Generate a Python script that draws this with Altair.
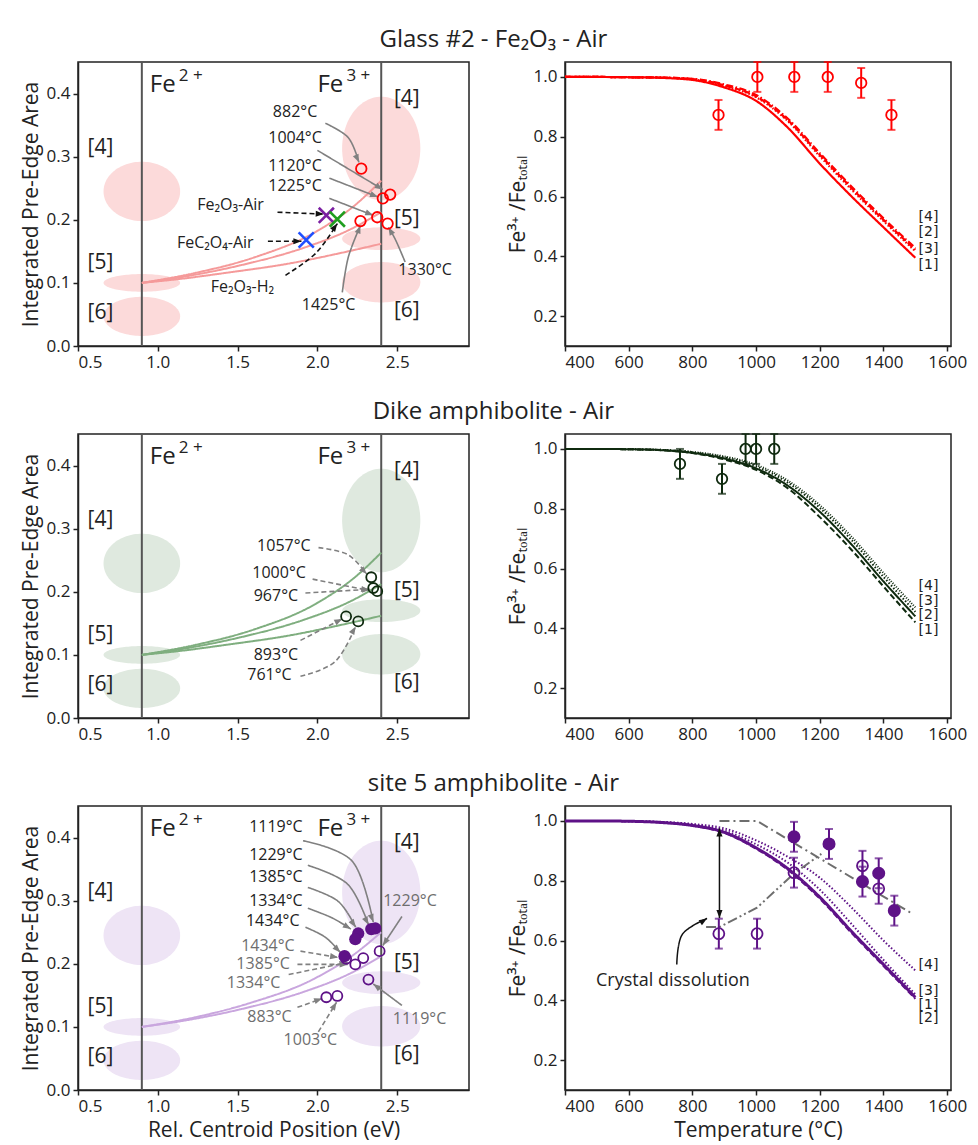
import math
import altair as alt
import pandas as pd

FONT = "Open Sans"
X_DOM = [0.5, 2.95]
A_DOM = [0.0, 0.45]
T_DOM = [400, 1612]
F_DOM = [0.1, 1.05]
PW, PH = 391, 284
RW = 386
SX_L = PW / (X_DOM[1] - X_DOM[0]); SY_L = PH / (A_DOM[1] - A_DOM[0])
SX_R = RW / (T_DOM[1] - T_DOM[0]); SY_R = PH / (F_DOM[1] - F_DOM[0])
HEAD = "M0,0L-0.38,1L0.38,1Z"
XMARK = "M-1,-1L1,1M-1,1L1,-1"

TITLES = ["Glass #2 - Fe₂O₃ - Air", "Dike amphibolite - Air", "site 5 amphibolite - Air"]

# ---------------- coordination-region ellipses (same in every left panel)
ELL_CX = [0.9, 0.9, 0.9, 2.4, 2.4, 2.4]
ELL_CY = [0.245, 0.100, 0.047, 0.313, 0.170, 0.101]
ELL_RX = [0.24, 0.24, 0.24, 0.245, 0.245, 0.245]
ELL_RY = [0.047, 0.014, 0.031, 0.082, 0.018, 0.032]
REGION_TXT = ["[4]", "[5]", "[6]", "[4]", "[5]", "[6]"]
REGION_X = [0.56, 0.56, 0.56, 2.48, 2.48, 2.48]
REGION_Y = [0.313, 0.131, 0.052, 0.392, 0.202, 0.055]
VLINES = [0.9, 2.4]
FE_TXT = ["Fe", "Fe"]
FE_SUP = ["2 +", "3 +"]
FE_X = [0.95, 2.0]
FE_Y = [0.413, 0.413]

# ---------------- mixing curves
MIX_HI_X = [0.9, 1.24, 1.6, 1.99, 2.23, 2.4]
MIX_HI_Y = [0.1, 0.116, 0.140, 0.181, 0.222, 0.262]
MIX_MID_X = [0.9, 1.19, 1.52, 1.92, 2.2, 2.4]
MIX_MID_Y = [0.1, 0.111, 0.128, 0.156, 0.184, 0.212]
MIX_LO_X = [0.9, 1.13, 1.43, 1.83, 2.14, 2.4]
MIX_LO_Y = [0.1, 0.106, 0.116, 0.131, 0.147, 0.162]
MIX_S5_X = [0.9, 1.23, 1.58, 1.97, 2.22, 2.4]
MIX_S5_Y = [0.1, 0.115, 0.138, 0.175, 0.213, 0.25]

# ---------------- row 1 (glass) left
G_PT_X = [2.275, 2.41, 2.456, 2.375, 2.27, 2.44]
G_PT_Y = [0.281, 0.234, 0.240, 0.204, 0.198, 0.194]
G_X_X = [2.056, 2.125, 1.93]
G_X_Y = [0.207, 0.201, 0.168]
G_X_COL = ["#7b1fa2", "#1f9e1f", "#1f4fff"]
G_LBL = ["882°C", "1004°C", "1120°C", "1225°C", "1425°C", "1330°C",
         "Fe₂O₃-Air", "FeC₂O₄-Air", "Fe₂O₃-H₂"]
G_LBL_X = [1.86, 1.86, 1.86, 1.86, 2.07, 2.675, 1.456, 1.36, 1.53]
G_LBL_Y = [0.371, 0.329, 0.285, 0.254, 0.065, 0.12, 0.223, 0.163, 0.093]
G_ARR_SOLID_X = [[2.05, 2.194, 2.26], [2.0, 2.41], [2.075, 2.38], [2.075, 2.35],
                 [2.156, 2.194, 2.27], [2.55, 2.49, 2.445]]
G_ARR_SOLID_Y = [[0.353, 0.330, 0.291], [0.31, 0.248], [0.266, 0.236], [0.234, 0.207],
                 [0.085, 0.141, 0.191], [0.133, 0.168, 0.188]]
G_ARR_DASH_X = [[1.75, 2.04], [1.69, 1.9], [1.8, 1.99, 2.125]]
G_ARR_DASH_Y = [[0.212, 0.209], [0.166, 0.166], [0.112, 0.147, 0.194]]

# ---------------- row 2 (dike) left
D_PT_X = [2.3375, 2.35, 2.375, 2.18, 2.256]
D_PT_Y = [0.223, 0.206, 0.201, 0.161, 0.153]
D_LBL = ["1057°C", "1000°C", "967°C", "893°C", "761°C"]
D_LBL_X = [1.79, 1.76, 1.74, 1.74, 1.70]
D_LBL_Y = [0.272, 0.229, 0.194, 0.100, 0.068]
D_ARR_X = [[2.007, 2.19, 2.31], [1.97, 2.325], [1.925, 2.33], [1.894, 2.156], [1.894, 2.11, 2.24]]
D_ARR_Y = [[0.270, 0.259, 0.228], [0.220, 0.202], [0.198, 0.204], [0.123, 0.157], [0.066, 0.089, 0.145]]

# ---------------- row 3 (site 5) left
S_FILL_X = [2.256, 2.2375, 2.3375, 2.3625, 2.17]
S_FILL_Y = [0.248, 0.239, 0.255, 0.256, 0.212]
S_OPEN_X = [2.18, 2.2375, 2.2875, 2.39, 2.32, 2.056, 2.125]
S_OPEN_Y = [0.208, 0.199, 0.209, 0.220, 0.175, 0.147, 0.149]
S_LBL_K = ["1119°C", "1229°C", "1385°C", "1334°C", "1434°C"]
S_LBL_K_X = [1.74, 1.74, 1.74, 1.74, 1.72]
S_LBL_K_Y = [0.416, 0.373, 0.337, 0.300, 0.267]
S_LBL_G = ["1434°C", "1385°C", "1334°C", "883°C", "1003°C", "1229°C", "1119°C"]
S_LBL_G_X = [1.69, 1.66, 1.60, 1.70, 1.956, 2.58, 2.64]
S_LBL_G_Y = [0.228, 0.199, 0.170, 0.115, 0.079, 0.299, 0.112]
S_ARR_SOLID_X = [[1.91, 2.22, 2.35], [1.94, 2.19, 2.32], [1.94, 2.13, 2.24], [1.94, 2.09, 2.21],
                 [1.925, 2.05, 2.144], [2.53, 2.41], [2.53, 2.35]]
S_ARR_SOLID_Y = [[0.395, 0.362, 0.266], [0.356, 0.326, 0.262], [0.321, 0.299, 0.258], [0.288, 0.273, 0.255],
                 [0.258, 0.242, 0.218], [0.275, 0.229], [0.134, 0.168]]
S_ARR_DASH_X = [[1.894, 2.13], [1.875, 2.19], [1.82, 2.19], [1.875, 2.03], [2.006, 2.12]]
S_ARR_DASH_Y = [[0.22, 0.21], [0.199, 0.199], [0.183, 0.202], [0.131, 0.145], [0.092, 0.139]]

# ---------------- right panels: model curves
T_GRID = [400, 500, 600, 700, 800, 900, 1000, 1100, 1200, 1300, 1400, 1500]
G_F1 = [1.0, 1.0, 0.999, 0.997, 0.990, 0.965, 0.920, 0.830, 0.710, 0.600, 0.497, 0.395]
G_F2 = [1.0, 1.0, 0.999, 0.998, 0.993, 0.972, 0.935, 0.855, 0.740, 0.628, 0.522, 0.422]
G_F3 = [1.0, 1.0, 0.999, 0.998, 0.992, 0.970, 0.932, 0.852, 0.735, 0.623, 0.518, 0.417]
G_F4 = [1.0, 1.0, 0.999, 0.998, 0.994, 0.975, 0.940, 0.860, 0.745, 0.633, 0.527, 0.428]
D_F1 = [1.0, 1.0, 0.999, 0.996, 0.986, 0.965, 0.930, 0.868, 0.772, 0.662, 0.540, 0.420]
D_F2 = [1.0, 1.0, 0.999, 0.996, 0.987, 0.968, 0.935, 0.877, 0.790, 0.680, 0.557, 0.440]
D_F3 = [1.0, 1.0, 0.999, 0.997, 0.989, 0.972, 0.942, 0.887, 0.803, 0.695, 0.572, 0.455]
D_F4 = [1.0, 1.0, 0.999, 0.997, 0.990, 0.975, 0.947, 0.894, 0.812, 0.706, 0.585, 0.470]
S_F1 = [1.0, 1.0, 0.999, 0.995, 0.985, 0.962, 0.910, 0.840, 0.745, 0.630, 0.520, 0.410]
S_F2 = [1.0, 1.0, 0.999, 0.995, 0.984, 0.960, 0.907, 0.836, 0.740, 0.625, 0.515, 0.405]
S_F3 = [1.0, 1.0, 0.999, 0.996, 0.988, 0.968, 0.922, 0.860, 0.770, 0.655, 0.535, 0.420]
S_F4 = [1.0, 1.0, 0.999, 0.997, 0.990, 0.975, 0.935, 0.880, 0.810, 0.710, 0.600, 0.500]

# measured Fe3+/Fetot
G_T = [882, 1004, 1120, 1225, 1330, 1425]
G_V = [0.873, 1.0, 1.0, 1.0, 0.98, 0.873]
D_T = [761, 893, 967, 1000, 1057]
D_V = [0.95, 0.90, 1.0, 1.0, 1.0]
S_FT = [1119, 1229, 1334, 1385, 1434]
S_FV = [0.947, 0.923, 0.797, 0.825, 0.700]
S_OT = [883, 1003, 1119, 1334, 1385]
S_OV = [0.623, 0.623, 0.827, 0.850, 0.773]
ERR = 0.05

R_LBL_G = ["[4]", "[2]", "[3]", "[1]"]; R_LBL_G_Y = [0.530, 0.480, 0.423, 0.370]
R_LBL_D = ["[4]", "[3]", "[2]", "[1]"]; R_LBL_D_Y = [0.543, 0.493, 0.443, 0.393]
R_LBL_S = ["[4]", "[3]", "[1]", "[2]"]; R_LBL_S_Y = [0.517, 0.430, 0.383, 0.340]
R_LBL_T = 1510

# site-5 extras
S_UP_T = [885, 1003, 1485]; S_UP_V = [1.0, 1.0, 0.693]
S_LO_T = [843, 885, 1003, 1118, 1205]; S_LO_V = [0.645, 0.645, 0.710, 0.823, 0.890]
S_VARR_T = [885]; S_VARR_V0 = [0.675]; S_VARR_V1 = [0.975]
S_CD_T = [751, 768, 846]; S_CD_V = [0.52, 0.62, 0.674]
S_CD_TXT = "Crystal dissolution"; S_CD_TXT_T = 739; S_CD_TXT_V = 0.463

DASH = {"solid": [1, 0], "dashed": [6, 3], "dotted": [1.5, 2], "dashdot": [7, 2.5, 1.5, 2.5],
        "fine": [1, 1.5]}


def angle(x0, y0, x1, y1, sx, sy):
    dx = (x1 - x0) * sx
    dy = -(y1 - y0) * sy
    return math.degrees(math.atan2(dx, -dy)) % 360


# ---------------- encodings
def lx(title):
    return alt.X("x:Q", scale=alt.Scale(domain=X_DOM, nice=False, zero=False),
                 axis=alt.Axis(values=[0.5, 1.0, 1.5, 2.0, 2.5], format=".1f", title=title))


def ly():
    return alt.Y("y:Q", scale=alt.Scale(domain=A_DOM, nice=False, zero=False),
                 axis=alt.Axis(values=[0.0, 0.1, 0.2, 0.3, 0.4], format=".1f",
                               title="Integrated Pre-Edge Area"))


def rx(title):
    return alt.X("x:Q", scale=alt.Scale(domain=T_DOM, nice=False, zero=False),
                 axis=alt.Axis(values=[400, 600, 800, 1000, 1200, 1400, 1600], format="d", title=title))


def ry():
    return alt.Y("y:Q", scale=alt.Scale(domain=F_DOM, nice=False, zero=False),
                 axis=alt.Axis(values=[0.2, 0.4, 0.6, 0.8, 1.0], format=".1f", title="Fe³⁺ /Feₜₒₜₐₗ"))


def lines(xs_list, ys_list, X, Y, color, width, dash, interp):
    rows = []
    for i, (xs, ys) in enumerate(zip(xs_list, ys_list)):
        for k, (a, b) in enumerate(zip(xs, ys)):
            rows.append({"id": i, "o": k, "x": a, "y": b})
    return alt.Chart(pd.DataFrame(rows)).mark_line(
        color=color, strokeWidth=width, strokeDash=dash, interpolate=interp).encode(
        x=X, y=Y, detail="id:N", order="o:Q")


def heads(xs_list, ys_list, X, Y, color, sx, sy, size=260):
    rows = []
    for xs, ys in zip(xs_list, ys_list):
        rows.append({"x": xs[-1], "y": ys[-1], "a": angle(xs[-2], ys[-2], xs[-1], ys[-1], sx, sy)})
    return alt.Chart(pd.DataFrame(rows)).mark_point(
        shape=HEAD, filled=True, size=size, color=color, opacity=1, strokeWidth=0).encode(
        x=X, y=Y, angle=alt.Angle("a:Q", scale=None))


def texts(lbls, xs, ys, X, Y, color, size, align="center", font=FONT, dx=0, dy=0):
    df = pd.DataFrame({"t": lbls, "x": xs, "y": ys})
    return alt.Chart(df).mark_text(color=color, fontSize=size, align=align, baseline="middle",
                                   font=font, dx=dx, dy=dy).encode(x=X, y=Y, text="t:N")


def left_panel(xtitle, ell_col, curve_col, curves, extra):
    X, Y = lx(xtitle), ly()
    rows = []
    for i, (cx, cy, rxx, ryy) in enumerate(zip(ELL_CX, ELL_CY, ELL_RX, ELL_RY)):
        for k in range(61):
            t = math.pi * k / 60
            h = ryy * math.sin(t)
            rows.append({"e": i, "x": cx - rxx * math.cos(t), "y": cy - h, "y2": cy + h})
    ell = alt.Chart(pd.DataFrame(rows)).mark_area(color=ell_col, opacity=1).encode(
        x=X, y=Y, y2="y2:Q", detail="e:N")
    vl = alt.Chart(pd.DataFrame({"x": VLINES})).mark_rule(color="#555555", strokeWidth=2).encode(x=X)
    cur = lines([c[0] for c in curves], [c[1] for c in curves], X, Y, curve_col, 2, DASH["solid"], "monotone")
    reg = texts(REGION_TXT, REGION_X, REGION_Y, X, Y, "#222222", 21, "left")
    fe = texts(FE_TXT, FE_X, FE_Y, X, Y, "#222222", 24, "left")
    fe_sup = texts(FE_SUP, FE_X, FE_Y, X, Y, "#222222", 17, "left", dx=29, dy=-9)
    return alt.layer(ell, vl, cur, reg, fe, fe_sup, *extra(X, Y)).properties(width=PW, height=PH)


def right_panel(xtitle, color, curves, lbls, lbl_y, extra):
    X, Y = rx(xtitle), ry()
    layers = []
    for vals, dash, w in curves:
        layers.append(lines([T_GRID], [vals], X, Y, color, w, DASH[dash], "monotone"))
    layers.append(texts(lbls, [R_LBL_T] * len(lbls), lbl_y, X, Y, "#222222", 14, "left", "DejaVu Sans"))
    layers += extra(X, Y)
    return alt.layer(*layers).properties(width=RW, height=PH)


def errbars(ts, vs, X, Y, color, filled, size):
    df = pd.DataFrame({"x": ts, "y": vs, "lo": [v - ERR for v in vs], "hi": [v + ERR for v in vs]})
    base = alt.Chart(df)
    rule = base.mark_rule(color=color, strokeWidth=2).encode(x=X, y=alt.Y("lo:Q"), y2="hi:Q")
    cap1 = base.mark_tick(color=color, orient="horizontal", size=8, thickness=2).encode(x=X, y=alt.Y("lo:Q"))
    cap2 = base.mark_tick(color=color, orient="horizontal", size=8, thickness=2).encode(x=X, y=alt.Y("hi:Q"))
    pts = base.mark_point(color=color, filled=filled, opacity=1, size=size, strokeWidth=1.8,
                          shape="circle").encode(x=X, y=Y)
    return [rule, cap1, cap2, pts]


def pts(xs, ys, X, Y, color, filled, size, sw=1.8):
    return alt.Chart(pd.DataFrame({"x": xs, "y": ys})).mark_point(
        color=color, filled=filled, opacity=1, size=size, strokeWidth=sw, shape="circle").encode(x=X, y=Y)


# ---------------- row extras
def g_left(X, Y):
    out = [lines(G_ARR_SOLID_X, G_ARR_SOLID_Y, X, Y, "#808080", 1.6, DASH["solid"], "cardinal"),
           heads(G_ARR_SOLID_X, G_ARR_SOLID_Y, X, Y, "#808080", SX_L, SY_L),
           lines(G_ARR_DASH_X, G_ARR_DASH_Y, X, Y, "#111111", 1.6, [5, 3], "cardinal"),
           heads(G_ARR_DASH_X, G_ARR_DASH_Y, X, Y, "#111111", SX_L, SY_L),
           pts(G_PT_X, G_PT_Y, X, Y, "#ff0000", False, 110)]
    xdf = pd.DataFrame({"x": G_X_X, "y": G_X_Y, "c": G_X_COL})
    out.append(alt.Chart(xdf).mark_point(shape=XMARK, filled=False, size=230, strokeWidth=2.6, opacity=1).encode(
        x=X, y=Y, color=alt.Color("c:N", scale=None)))
    out.append(texts(G_LBL, G_LBL_X, G_LBL_Y, X, Y, "#222222", 16))
    return out


def d_left(X, Y):
    return [lines(D_ARR_X, D_ARR_Y, X, Y, "#808080", 1.6, [5, 3], "cardinal"),
            heads(D_ARR_X, D_ARR_Y, X, Y, "#808080", SX_L, SY_L),
            pts(D_PT_X, D_PT_Y, X, Y, "#0f2a0f", False, 100),
            texts(D_LBL, D_LBL_X, D_LBL_Y, X, Y, "#222222", 16)]


def s_left(X, Y):
    return [lines(S_ARR_SOLID_X, S_ARR_SOLID_Y, X, Y, "#808080", 1.6, DASH["solid"], "cardinal"),
            heads(S_ARR_SOLID_X, S_ARR_SOLID_Y, X, Y, "#808080", SX_L, SY_L),
            lines(S_ARR_DASH_X, S_ARR_DASH_Y, X, Y, "#808080", 1.6, [5, 3], "cardinal"),
            heads(S_ARR_DASH_X, S_ARR_DASH_Y, X, Y, "#808080", SX_L, SY_L),
            pts(S_OPEN_X, S_OPEN_Y, X, Y, "#5e1287", False, 100),
            pts(S_FILL_X, S_FILL_Y, X, Y, "#5e1287", True, 150),
            texts(S_LBL_K, S_LBL_K_X, S_LBL_K_Y, X, Y, "#222222", 16),
            texts(S_LBL_G, S_LBL_G_X, S_LBL_G_Y, X, Y, "#6e6e6e", 16)]


def g_right(X, Y):
    return errbars(G_T, G_V, X, Y, "#ff0000", False, 110)


def d_right(X, Y):
    return errbars(D_T, D_V, X, Y, "#0f2a0f", False, 110)


def s_right(X, Y):
    out = [lines([S_UP_T], [S_UP_V], X, Y, "#6e6e6e", 2, [10, 4, 2, 4], "linear"),
           lines([S_LO_T], [S_LO_V], X, Y, "#6e6e6e", 2, [10, 3, 2, 3, 2, 3], "linear")]
    out += errbars(S_OT, S_OV, X, Y, "#5e1287", False, 120)
    out += errbars(S_FT, S_FV, X, Y, "#5e1287", True, 170)
    vdf = pd.DataFrame({"x": S_VARR_T, "y": S_VARR_V0, "y2": S_VARR_V1})
    out.append(alt.Chart(vdf).mark_rule(color="#111111", strokeWidth=1.5).encode(x=X, y=Y, y2="y2:Q"))
    varr_x = [[S_VARR_T[0], S_VARR_T[0]], [S_VARR_T[0], S_VARR_T[0]]]
    varr_y = [[S_VARR_V1[0], S_VARR_V0[0]], [S_VARR_V0[0], S_VARR_V1[0]]]
    out.append(heads(varr_x, varr_y, X, Y, "#111111", SX_R, SY_R))
    out.append(lines([S_CD_T], [S_CD_V], X, Y, "#111111", 1.5, DASH["solid"], "cardinal"))
    out.append(heads([S_CD_T], [S_CD_V], X, Y, "#111111", SX_R, SY_R))
    out.append(texts([S_CD_TXT], [S_CD_TXT_T], [S_CD_TXT_V], X, Y, "#222222", 18))
    return out


def row(i, left, right, spacing=36):
    return alt.hconcat(left, right, spacing=spacing,
                       title=alt.TitleParams(TITLES[i], fontSize=24, fontWeight="normal", anchor="middle",
                                             font=FONT, color="#222222", offset=8))


MIX3 = [(MIX_HI_X, MIX_HI_Y), (MIX_MID_X, MIX_MID_Y), (MIX_LO_X, MIX_LO_Y)]
MIX2 = [(MIX_S5_X, MIX_S5_Y), (MIX_MID_X, MIX_MID_Y)]

r1 = row(0,
         left_panel(None, "#fcdada", "#f59a9a", MIX3, g_left),
         right_panel(None, "#ff0000", [(G_F4, "dashdot", 2.2), (G_F2, "dashed", 2.2), (G_F3, "dotted", 2.2),
                                       (G_F1, "solid", 2.2)], R_LBL_G, R_LBL_G_Y, g_right))
r2 = row(1,
         left_panel(None, "#dfe9df", "#7fae7f", MIX3, d_left),
         right_panel(None, "#0f2a0f", [(D_F4, "fine", 2), (D_F3, "dotted", 2), (D_F2, "solid", 2),
                                       (D_F1, "dashed", 2)], R_LBL_D, R_LBL_D_Y, d_right))
r3 = row(2,
         left_panel("Rel. Centroid Position (eV)", "#eee4f5", "#c9a6de", MIX2, s_left),
         right_panel("Temperature (°C)", "#5e1287", [(S_F4, "dotted", 2), (S_F3, "dotted", 2), (S_F2, "dashed", 2),
                                                      (S_F1, "solid", 3)], R_LBL_S, R_LBL_S_Y, s_right))

chart = alt.vconcat(r1, r2, r3, spacing=29).properties(
    padding={"left": 11, "top": 20, "right": 0, "bottom": 0}
).configure(font=FONT).configure_view(stroke="#222222", strokeWidth=1.5).configure_axis(
    grid=False, labelFontSize=17, titleFontSize=21, labelColor="#222222", titleColor="#222222",
    titleFontWeight="normal", domainColor="#222222", domainWidth=1.5, tickColor="#222222",
    tickSize=5, tickWidth=1.5, labelFont=FONT, titleFont=FONT, labelPadding=3, titlePadding=5
)

chart.save("out.html", embed_options={"renderer": "svg", "actions": False})
